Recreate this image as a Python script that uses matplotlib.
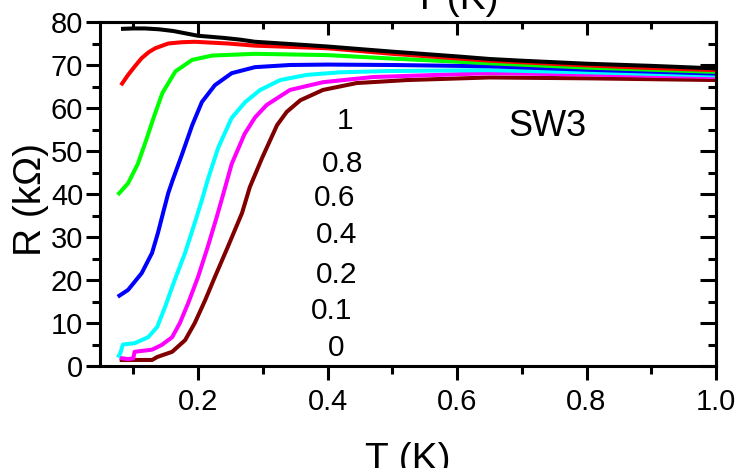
import matplotlib
matplotlib.use("Agg")
import matplotlib.pyplot as plt
from matplotlib.ticker import MultipleLocator, FixedLocator

plt.rcParams['font.family'] = ['Liberation Sans', 'DejaVu Sans']

# R(T) curves of sample SW3 for several magnetic fields (T)
T_1 = [0.081, 0.100, 0.118, 0.140, 0.162, 0.200, 0.240, 0.265, 0.288, 0.350, 0.400,
       0.500, 0.600, 0.650, 0.700, 0.800, 0.900, 1.000]
R_1 = [78.4, 78.5, 78.5, 78.3, 77.9, 76.8, 76.3, 75.9, 75.4, 74.8, 74.3,
       73.1, 72.0, 71.4, 71.0, 70.3, 69.8, 69.2]

T_08 = [0.081, 0.092, 0.103, 0.113, 0.124, 0.134, 0.154, 0.175, 0.195, 0.246, 0.288,
        0.400, 0.500, 0.650, 0.800, 0.900, 1.000]
R_08 = [65.3, 67.7, 69.8, 71.6, 73.0, 73.9, 75.0, 75.3, 75.4, 75.0, 74.5,
        73.9, 72.6, 71.0, 69.9, 69.3, 68.8]

T_06 = [0.076, 0.092, 0.107, 0.121, 0.132, 0.145, 0.165, 0.191, 0.222, 0.288, 0.400,
        0.500, 0.650, 0.800, 1.000]
R_06 = [39.8, 42.5, 47.0, 53.0, 58.0, 63.5, 68.5, 71.2, 72.2, 72.6, 72.3,
        71.5, 70.4, 69.4, 68.4]

T_04 = [0.076, 0.092, 0.113, 0.129, 0.138, 0.146, 0.154, 0.161, 0.175, 0.191, 0.206,
        0.226, 0.252, 0.288, 0.342, 0.400, 0.500, 0.650, 0.800, 1.000]
R_04 = [16.1, 17.7, 21.6, 26.3, 30.9, 35.6, 40.2, 43.3, 49.1, 56.0, 61.4,
        65.3, 68.1, 69.5, 70.0, 70.1, 70.0, 69.7, 68.9, 68.0]

T_02 = [0.076, 0.080, 0.084, 0.102, 0.123, 0.137, 0.149, 0.164, 0.180, 0.195, 0.206,
        0.215, 0.231, 0.252, 0.273, 0.296, 0.327, 0.368, 0.419, 0.497, 0.650, 0.800, 1.000]
R_02 = [2.0, 3.0, 5.0, 5.3, 6.7, 9.1, 13.7, 20.0, 26.3, 33.3, 38.6,
        43.3, 50.7, 57.7, 61.4, 64.2, 66.5, 67.7, 68.3, 68.6, 68.8, 68.3, 67.6]

T_01 = [0.079, 0.092, 0.100, 0.102, 0.129, 0.144, 0.160, 0.172, 0.185, 0.200, 0.215,
        0.229, 0.242, 0.252, 0.262, 0.272, 0.288, 0.306, 0.342, 0.393, 0.470, 0.650,
        0.800, 1.000]
R_01 = [1.9, 1.6, 1.8, 3.3, 3.8, 4.9, 6.7, 10.0, 14.7, 20.7, 27.7,
        34.7, 41.6, 47.0, 50.5, 54.0, 57.8, 60.7, 64.2, 66.0, 67.2, 68.1,
        67.8, 67.2]

T_0 = [0.079, 0.100, 0.129, 0.137, 0.160, 0.180, 0.195, 0.211, 0.226, 0.246, 0.268,
       0.280, 0.299, 0.322, 0.337, 0.358, 0.393, 0.445, 0.523, 0.650, 0.800, 1.000]
R_0 = [1.4, 1.4, 1.4, 2.1, 3.3, 6.0, 10.0, 15.3, 20.7, 27.7, 35.6,
       41.6, 48.4, 56.0, 59.1, 61.8, 64.2, 65.8, 66.5, 67.1, 66.9, 66.5]

series = [
    (T_0, R_0, '#800000'),
    (T_01, R_01, '#ff00ff'),
    (T_02, R_02, '#00ffff'),
    (T_04, R_04, '#0000ff'),
    (T_06, R_06, '#00ff00'),
    (T_08, R_08, '#ff0000'),
    (T_1, R_1, '#000000'),
]

field_labels = ['1', '0.8', '0.6', '0.4', '0.2', '0.1', '0']
label_T = [0.427, 0.424, 0.411, 0.414, 0.414, 0.407, 0.414]
label_R = [55.2, 45.2, 37.1, 28.5, 19.4, 11.0, 2.4]

x_major = [0.2, 0.4, 0.6, 0.8, 1.0]
x_labels = ['0.2', '0.4', '0.6', '0.8', '1.0']

fig = plt.figure(figsize=(7.39, 4.68), dpi=100)
ax = fig.add_axes([100 / 739, 1 - 366 / 468, 616 / 739, 344 / 468])

for T, R, c in series:
    ax.plot(T, R, color=c, lw=2.9, solid_joinstyle='round', solid_capstyle='butt')

ax.set_xlim(0.0486, 1.0)
ax.set_ylim(0, 80)

ax.xaxis.set_major_locator(FixedLocator(x_major))
ax.set_xticklabels(x_labels)
ax.xaxis.set_minor_locator(MultipleLocator(0.2, offset=0.1))
ax.yaxis.set_major_locator(MultipleLocator(10))
ax.yaxis.set_minor_locator(MultipleLocator(5))

for s in ax.spines.values():
    s.set_linewidth(2.2)

ax.tick_params(which='major', direction='out', length=10, width=2.2, labelsize=21)
ax.tick_params(which='minor', direction='out', length=5.5, width=2.2)
ax.tick_params(axis='x', pad=6)
ax.tick_params(axis='y', pad=2)

# inward ticks on the top and right frames
sx = ax.secondary_xaxis('top')
sx.xaxis.set_major_locator(FixedLocator(x_major))
sx.xaxis.set_minor_locator(MultipleLocator(0.2, offset=0.1))
sx.tick_params(which='major', direction='in', length=9.5, width=2.2, labeltop=False)
sx.tick_params(which='minor', direction='in', length=5, width=2.2)
sx.spines['top'].set_linewidth(2.2)

sy = ax.secondary_yaxis('right')
sy.yaxis.set_major_locator(MultipleLocator(10))
sy.yaxis.set_minor_locator(MultipleLocator(5))
sy.tick_params(which='major', direction='in', length=11.5, width=2.2, labelright=False)
sy.tick_params(which='minor', direction='in', length=5.8, width=2.2)
sy.spines['right'].set_linewidth(2.2)

for lab, t, r in zip(field_labels, label_T, label_R):
    ax.text(t, r, lab, fontsize=21.5, ha='center', va='baseline')
ax.text(0.740, 53.5, 'SW3', fontsize=26, ha='center', va='baseline')

fig.text(31 / 739, 1 - 200 / 468, 'R (kΩ)', rotation=90, ha='center', va='center', fontsize=28)
fig.text(408 / 739, -2 / 468, 'T (K)', ha='center', va='baseline', fontsize=28)
fig.text(456 / 739, 1 - 9 / 468, 'T (K)', ha='center', va='baseline', fontsize=28)

fig.savefig('out.png', dpi=100)
